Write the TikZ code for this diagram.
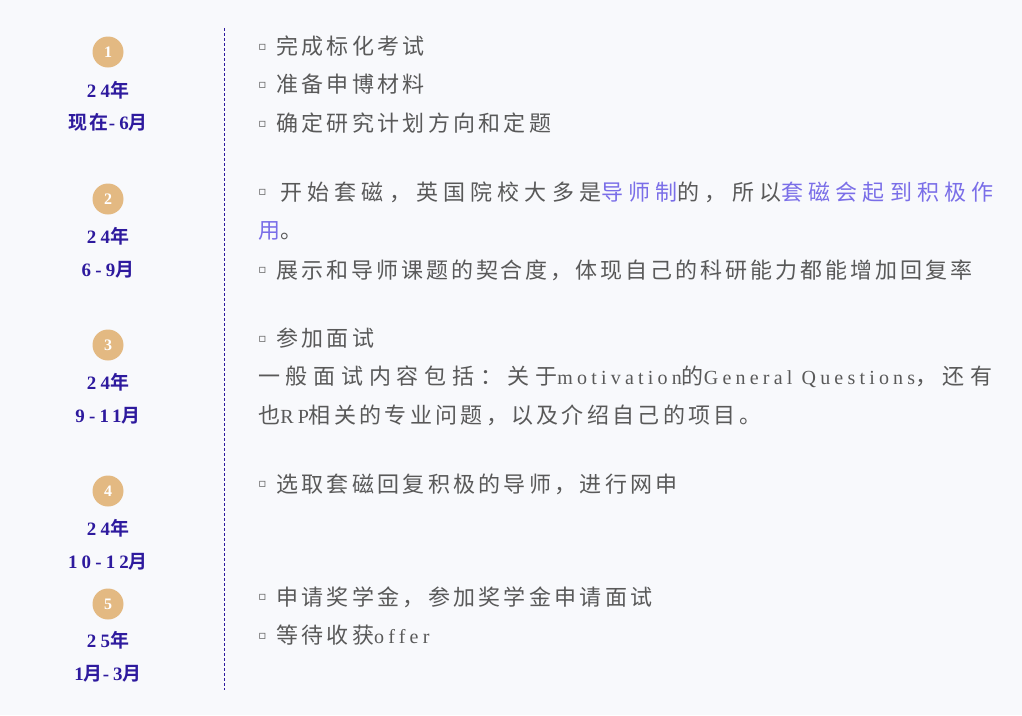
\documentclass[tikz,border=0pt]{standalone}
\usepackage{fontspec}
\usepackage{xcolor}
\usepackage{tikz}
\usetikzlibrary{positioning}
\setmainfont{Noto Sans CJK SC}
\newfontfamily\cjkbody{Noto Sans CJK SC}[LetterSpace=15]
\newfontfamily\cjkwide{Noto Sans CJK SC}[LetterSpace=23.6]
\newfontfamily\cjkjust{Noto Sans CJK SC}[LetterSpace=26]
\newfontfamily\cjktight{Noto Sans CJK SC}[LetterSpace=13.5]
\newfontfamily\latbody{Liberation Serif}[LetterSpace=21]
\newfontfamily\cjkdate{Noto Sans CJK SC}[BoldFont={Noto Sans CJK SC Bold}, LetterSpace=15]
\newfontfamily\numdate{Liberation Serif}[LetterSpace=22]
\newfontfamily\symfont{DejaVu Sans}
\definecolor{pagebg}{HTML}{F8F9FC}
\definecolor{stepgold}{HTML}{E3B982}
\definecolor{dateink}{HTML}{2E1A9E}
\definecolor{bodyink}{HTML}{595959}
\definecolor{linkink}{HTML}{7A6EE8}
\newcommand{\bul}[1][13.5pt]{\makebox[#1][l]{\raisebox{3.2pt}{\symfont\fontsize{9pt}{9pt}\selectfont ▫}}}
\newcommand{\dnum}[1]{{\numdate\bfseries #1}}
\newcommand{\lat}[1]{{\fontsize{15pt}{18pt}\latbody #1}}
\newcommand{\hl}[1]{{\color{linkink}#1}}
\tikzset{
	numdisc/.style={
		circle,
		fill=stepgold,
		minimum size=23.25pt,
		inner sep=0pt,
		text=white,
		font=\fontsize{12pt}{12pt}\numdate\bfseries
	},
	datelbl/.style={
		inner sep=0pt,
		text=dateink,
		font=\fontsize{14.2pt}{16pt}\cjkdate\bfseries
	},
	itemline/.style={
		anchor=west,
		inner sep=0pt,
		text=bodyink,
		font=\fontsize{16.5pt}{19pt}\cjkbody
	},
	timeline/.style={
		draw=dateink,
		line width=.75pt,
		dash pattern=on 2.25pt off 1.5pt
	}
}

\begin{document}
\begin{tikzpicture}[x=.75pt, y=-.75pt]
\useasboundingbox[fill=pagebg] (0,0) rectangle (1022,715);

% time line
\coordinate (top) at (224,28);
\coordinate (bot) at (224,690);
\draw[timeline] (top) -- (bot);

% steps
\node[numdisc] (c1) at (108,52) {1};
\node[datelbl, below=28.5pt of c1.center, anchor=center] (y1) {\dnum{24}年};
\node[datelbl, below=24.5pt of y1.center, anchor=center] (m1) {现在\dnum{-6}月};

\node[numdisc] (c2) at (108,199) {2};
\node[datelbl, below=28pt of c2.center, anchor=center] (y2) {\dnum{24}年};
\node[datelbl, below=25pt of y2.center, anchor=center] (m2) {\dnum{6-9}月};

\node[numdisc] (c3) at (108,345) {3};
\node[datelbl, below=28pt of c3.center, anchor=center] (y3) {\dnum{24}年};
\node[datelbl, below=25pt of y3.center, anchor=center] (m3) {\dnum{9-11}月};

\node[numdisc] (c4) at (108,491) {4};
\node[datelbl, below=28pt of c4.center, anchor=center] (y4) {\dnum{24}年};
\node[datelbl, below=25pt of y4.center, anchor=center] (m4) {\dnum{10-12}月};

\node[numdisc] (c5) at (108,604) {5};
\node[datelbl, below=27pt of c5.center, anchor=center] (y5) {\dnum{25}年};
\node[datelbl, below=25pt of y5.center, anchor=center] (m5) {\dnum{1}月\dnum{-3}月};

% items
\node[itemline] (t11) at (258,46) {\bul 完成标化考试};
\node[itemline] (t12) at (258,84) {\bul 准备申博材料};
\node[itemline] (t13) at (258,123) {\bul 确定研究计划方向和定题};

\node[itemline, font=\fontsize{16.5pt}{19pt}\cjkwide] (t21) at (258,192) {\bul[16.5pt]开始套磁，英国院校大多是\hl{导师制}的，所以\hl{套磁会起到积极作}};
\node[itemline] (t22) at (258,231) {\hl{用}。};
\node[itemline, font=\fontsize{16.5pt}{19pt}\cjktight] (t23) at (258,270) {\bul 展示和导师课题的契合度，体现自己的科研能力都能增加回复率};

\node[itemline] (t31) at (258,338) {\bul 参加面试};
\node[itemline, font=\fontsize{16.5pt}{19pt}\cjkjust] (t32) at (258,377) {一般面试内容包括：关于\lat{motivation}的\lat{General Questions}，还有};
\node[itemline] (t33) at (258,415) {也\lat{RP}相关的专业问题，以及介绍自己的项目。};

\node[itemline] (t41) at (258,484) {\bul 选取套磁回复积极的导师，进行网申};

\node[itemline] (t51) at (258,597) {\bul 申请奖学金，参加奖学金申请面试};
\node[itemline] (t52) at (258,635) {\bul 等待收获\lat{offer}};
\end{tikzpicture}
\end{document}
